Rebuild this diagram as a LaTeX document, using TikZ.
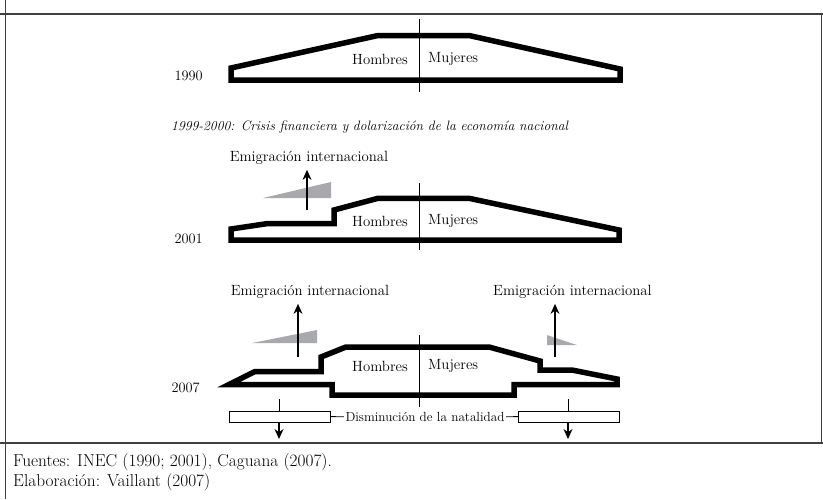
\documentclass[tikz,border=0pt]{standalone}
\usepackage{tikz}
\usetikzlibrary{arrows.meta}
\definecolor{grisMig}{HTML}{A7A9AC}

\tikzset{
  piramide/.style={line width=5.5pt, line join=miter, miter limit=20},
  eje/.style={line width=0.9pt},
  etiq/.style={inner sep=0pt, font=\fontsize{14.8}{17}\selectfont},
  anio/.style={etiq, anchor=east, font=\fontsize{14.4}{17}\selectfont},
  flechaMig/.style={line width=1.3pt, -{Stealth[length=10pt,width=9pt]}},
  caja/.style={draw, line width=0.9pt, minimum width=101pt, minimum height=11pt, inner sep=0pt},
  marco/.style={line width=1.2pt, black!75},
  pie/.style={inner sep=0pt, anchor=west, font=\fontsize{17.3}{20}\selectfont}
}

\begin{document}
\begin{tikzpicture}[x=1pt,y=-1pt]
\useasboundingbox (0,0) rectangle (823,499);

% marco
\draw[marco] (0,14) -- (823,14);
\draw[marco] (0,443) -- (823,443);
\draw[marco] (5.5,0) -- (5.5,499);
\draw[marco] (821.5,14) -- (821.5,443);

% 1990
\draw[piramide] (231,80) -- (231,68) -- (378,35.5) -- (469,35.5) -- (620,69) -- (620,80) -- cycle;
\coordinate (e90a) at (419,19);
\coordinate (e90b) at (419,92);
\draw[eje] (e90a) -- (e90b);
\node[etiq, anchor=east] (h90) at (408,59) {Hombres};
\node[etiq, anchor=west] (m90) at (428,59) {Mujeres};
\node[anio] (a90) at (203,76) {1990};

\node[etiq, anchor=west, font=\fontsize{13.6}{16}\selectfont\itshape] (crisis) at (171,127) {1999-2000: Crisis financiera y dolarización de la economía nacional};

% 2001
\fill[grisMig] (263,198) -- (331,182) -- (331,198) -- cycle;
\draw[piramide] (231,240) -- (231,229) -- (268,223.5) -- (334,223.5) -- (334,210) -- (378,198.3) -- (469,198.3) -- (619,230) -- (619,240) -- cycle;
\coordinate (e01a) at (419,183);
\coordinate (e01b) at (419,250);
\draw[eje] (e01a) -- (e01b);
\node[etiq, anchor=east] (h01) at (408,221) {Hombres};
\node[etiq, anchor=west] (m01) at (428,221) {Mujeres};
\node[anio] (a01) at (203,239) {2001};
\node[etiq] (mig01) at (309,158) {Emigración internacional};
\coordinate (f01) at (307,210);
\draw[flechaMig] (f01) -- ([yshift=-5pt]mig01.south -| f01);

% 2007
\fill[grisMig] (252,343) -- (317,330) -- (317,343) -- cycle;
\fill[grisMig] (547,335) -- (547,345) -- (577,345) -- cycle;
\draw[piramide] (229,384.5) -- (255,371.5) -- (321,371.5) -- (321,357) -- (346,347) -- (489,347) -- (540,361) -- (540,370) -- (572,370) -- (617,379) -- (617,384.5) -- (514,384.5) -- (514,395) -- (332,395) -- (332,384.5) -- cycle;
\coordinate (e07a) at (419,335);
\coordinate (e07b) at (419,407);
\draw[eje] (e07a) -- (e07b);
\node[etiq, anchor=east] (h07) at (408,366) {Hombres};
\node[etiq, anchor=west] (m07) at (428,366) {Mujeres};
\node[anio] (a07) at (200,388) {2007};
\node[etiq] (mig07i) at (310,292) {Emigración internacional};
\node[etiq, anchor=west] (mig07d) at (493,292) {Emigración internacional};
\coordinate (f07i) at (298,357);
\coordinate (f07d) at (555,357);
\draw[flechaMig] (f07i) -- ([yshift=-5pt]mig07i.south -| f07i);
\draw[flechaMig] (f07d) -- ([yshift=-5pt]mig07d.south -| f07d);

% natalidad
\node[caja] (cajaI) at (279.5,416.5) {};
\node[caja] (cajaD) at (569,416.5) {};
\node[etiq, font=\fontsize{13.2}{15}\selectfont, inner xsep=1.5pt] (nat) at (425,417) {Disminución de la natalidad};
\draw[eje] (cajaI) -- (nat);
\draw[eje] (nat) -- (cajaD);
\coordinate (nI) at (279,399);
\coordinate (nD) at (568,399);
\coordinate (nIb) at (279,439);
\coordinate (nDb) at (568,439);
\draw[eje] (nI) -- (cajaI.north -| nI);
\draw[eje] (nD) -- (cajaD.north -| nD);
\draw[flechaMig] (cajaI.south -| nI) -- (nIb);
\draw[flechaMig] (cajaD.south -| nD) -- (nDb);

% fuentes
\node[pie] (fuentes) at (13,462) {Fuentes: INEC (1990; 2001), Caguana (2007).};
\node[pie] (elab) at (13,482) {Elaboración: Vaillant (2007)};
\end{tikzpicture}
\end{document}
